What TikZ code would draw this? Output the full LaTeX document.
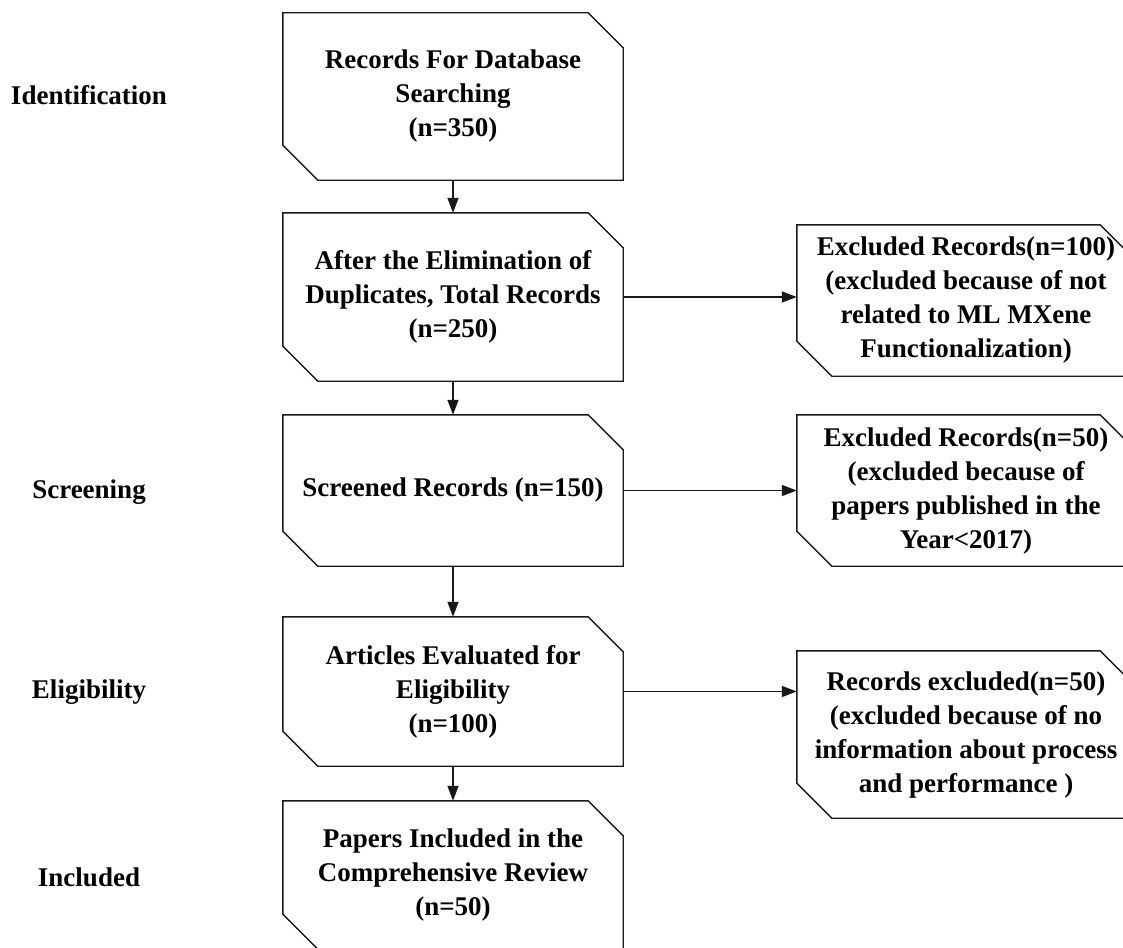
\documentclass[tikz,border=0pt]{standalone}
\usepackage{fontspec}
\setmainfont{Liberation Serif}
\usetikzlibrary{arrows.meta}
\newcommand\chamfbox[1]{\draw[outline] (#1.north west) -- ([xshift=-35pt]#1.north east) -- ([yshift=-35pt]#1.north east) -- (#1.south east) -- ([xshift=35pt]#1.south west) -- ([yshift=35pt]#1.south west) -- cycle;}
\begin{document}
\begin{tikzpicture}[x=1pt,y=-1pt,
  boxtext/.style={inner sep=0pt, minimum width=340pt, align=center, font=\fontsize{27}{34}\selectfont\bfseries},
  lbl/.style={inner sep=0pt, font=\fontsize{27}{34}\selectfont\bfseries},
  outline/.style={line width=1.4pt, draw=black!90},
  conn/.style={line width=1.4pt, draw=black!90, -{Triangle[length=15pt,width=11pt]}}]
\useasboundingbox[fill=white] (0,0) rectangle (1123,947);
% stage labels
\node[lbl] (lid) at (89,95) {Identification};
\node[lbl] (lsc) at (89,492) {Screening};
\node[lbl] (lel) at (89,692) {Eligibility};
\node[lbl] (lin) at (89,877) {Included};
% main column
\node[boxtext, minimum height=167pt] (b1) at (453,96.5) {Records For Database\\Searching\\(n=350)};
\node[boxtext, minimum height=168pt] (b2) at (453,297) {After the Elimination of\\Duplicates, Total Records\\(n=250)};
\node[boxtext, minimum height=151pt] (b3) at (453,490.5) {Screened Records (n=150)};
\node[boxtext, minimum height=149pt] (b4) at (453,691.5) {Articles Evaluated for\\Eligibility\\(n=100)};
\node[boxtext, minimum height=148pt] (b5) at (453,875) {Papers Included in the\\Comprehensive Review\\(n=50)};
% right column
\node[boxtext, minimum width=338pt, minimum height=151pt] (r1) at (966,300.5) {Excluded Records(n=100)\\(excluded because of not\\related to ML MXene\\Functionalization)};
\node[boxtext, minimum width=338pt, minimum height=151pt] (r2) at (966,490.5) {Excluded Records(n=50)\\(excluded because of\\papers published in the\\Year<2017)};
\node[boxtext, minimum width=338pt, minimum height=167pt] (r3) at (966,734.5) {Records excluded(n=50)\\(excluded because of no\\information about process\\and performance )};
\chamfbox{b1}
\chamfbox{b2}
\chamfbox{b3}
\chamfbox{b4}
\chamfbox{b5}
\chamfbox{r1}
\chamfbox{r2}
\chamfbox{r3}
% connectors
\draw[conn] (b1.south) -- (b2.north);
\draw[conn] (b2.south) -- (b3.north);
\draw[conn] (b3.south) -- (b4.north);
\draw[conn] (b4.south) -- (b5.north);
\draw[conn] (b2.east) -- (b2.east -| r1.west);
\draw[conn] (b3.east) -- (b3.east -| r2.west);
\draw[conn] (b4.east) -- (b4.east -| r3.west);
\end{tikzpicture}
\end{document}
